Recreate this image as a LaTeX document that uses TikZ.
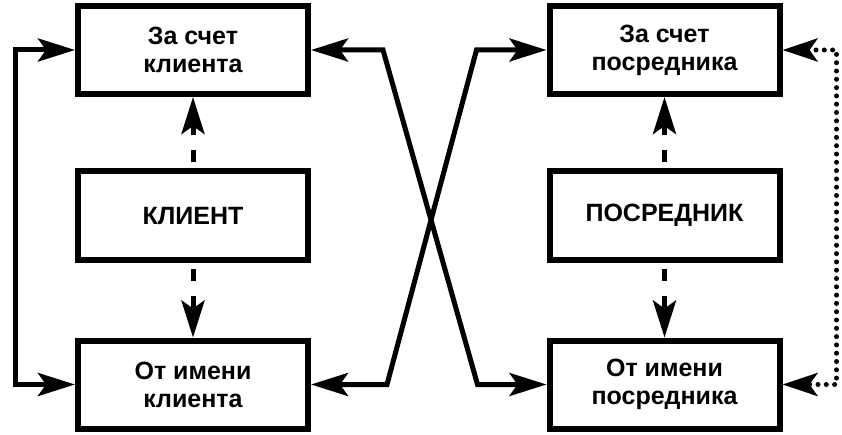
\documentclass[tikz,border=0pt]{standalone}
\usepackage{fontspec}
\setmainfont{Liberation Sans}
\usetikzlibrary{arrows.meta}
\tikzset{
  box/.style={draw,line width=6pt,minimum width=230pt,minimum height=88pt,align=center,
    font=\fontsize{25}{28}\selectfont\bfseries,inner sep=0pt},
  conn/.style={line width=5pt,line join=miter,{Stealth[length=37pt,width=23pt,inset=8pt]}-{Stealth[length=37pt,width=23pt,inset=8pt]}},
  dashconn/.style={line width=5pt,dash pattern=on 12pt off 15pt,dash phase=21pt,-{Stealth[length=37pt,width=23pt,inset=8pt]}},
  dotconn/.style={line width=5pt,line cap=round,dash pattern=on 0pt off 8.3pt,{Stealth[length=35pt,width=23pt,inset=8pt]}-{Stealth[length=35pt,width=23pt,inset=8pt]}}
}
\begin{document}
\begin{tikzpicture}[x=1pt,y=1pt]
  \useasboundingbox (0,0) rectangle (842,434);
  \node[box] (kt) at (193,384) {За счет\\клиента};
  \node[box] (k) at (193,218.5) {КЛИЕНТ};
  \node[box] (kb) at (193,49.5) {От имени\\клиента};
  \node[box] (pt) at (664.5,384) {За счет\\посредника};
  \node[box] (p) at (664.5,218.5) {ПОСРЕДНИК};
  \node[box] (pb) at (664.5,49.5) {От имени\\посредника};
  \draw[dashconn] (k) -- (kt);
  \draw[dashconn] (k) -- (kb);
  \draw[dashconn] (p) -- (pt);
  \draw[dashconn] (p) -- (pb);
  \draw[conn] (kt.west) -- ++(-60,0) |- (kb.west);
  \draw[dotconn] (pt.east) -- ++(54,0) |- (pb.east);
  \coordinate (a1) at ([xshift=72]kt.east);
  \coordinate (a2) at ([xshift=-69]pb.west);
  \coordinate (b1) at ([xshift=-70]pt.west);
  \coordinate (b2) at ([xshift=76]kb.east);
  \draw[conn] (kt.east) -- (a1) -- (a2) -- (pb.west);
  \draw[conn] (pt.west) -- (b1) -- (b2) -- (kb.east);
\end{tikzpicture}
\end{document}
